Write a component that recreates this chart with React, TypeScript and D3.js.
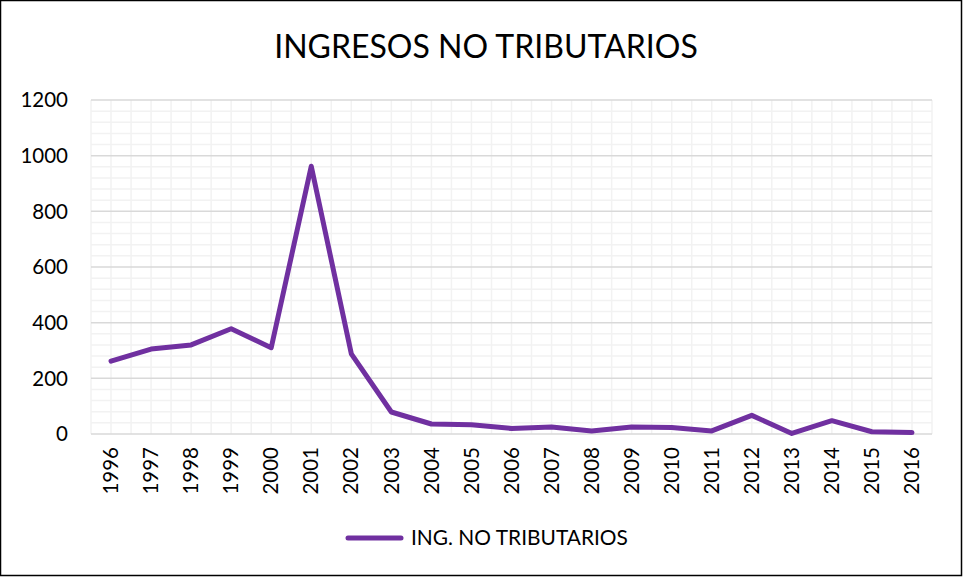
import React, { useEffect, useRef } from "react";
import * as d3 from "d3";

const years = ["1996","1997","1998","1999","2000","2001","2002","2003","2004","2005","2006","2007","2008","2009","2010","2011","2012","2013","2014","2015","2016"];
const ingNoTributarios = [262, 305, 320, 378, 310, 962, 288, 79, 36, 33, 20, 25, 11, 25, 23, 11, 67, 2, 48, 8, 5];
const yTicks = [0, 200, 400, 600, 800, 1000, 1200];
const seriesName = "ING. NO TRIBUTARIOS";
const title = "INGRESOS NO TRIBUTARIOS";

const W = 963;
const H = 577;
const FONT = "Lato, 'Open Sans', sans-serif";

export default function App() {
  const svgRef = useRef<SVGSVGElement>(null);

  useEffect(() => {
    const svg = d3.select(svgRef.current);
    svg.selectAll("*").remove();

    const left = 91, right = 932, top = 100, bottom = 434;
    const x = d3.scaleBand().domain(years).range([left, right]);
    const y = d3.scaleLinear().domain([0, 1200]).range([bottom, top]);

    svg.append("rect").attr("x", 0.5).attr("y", 0.5).attr("width", W - 2).attr("height", H - 2)
      .attr("fill", "#fff").attr("stroke", "#000").attr("stroke-width", 1.5);

    // minor horizontal gridlines
    const minor = d3.range(0, 1201, 40).filter(v => v % 200 !== 0);
    svg.append("g").selectAll("line").data(minor).join("line")
      .attr("x1", left).attr("x2", right).attr("y1", d => y(d)).attr("y2", d => y(d))
      .attr("stroke", "#f2f2f2").attr("stroke-width", 1.5);

    // vertical gridlines: boundaries and centers
    const vx: number[] = [];
    years.forEach(yr => { vx.push(x(yr)!); vx.push(x(yr)! + x.bandwidth() / 2); });
    vx.push(right);
    svg.append("g").selectAll("line").data(vx).join("line")
      .attr("x1", d => d).attr("x2", d => d).attr("y1", top).attr("y2", bottom)
      .attr("stroke", "#f2f2f2").attr("stroke-width", 1.5);

    // major horizontal gridlines
    svg.append("g").selectAll("line").data(yTicks).join("line")
      .attr("x1", left).attr("x2", right).attr("y1", d => y(d)).attr("y2", d => y(d))
      .attr("stroke", "#d9d9d9").attr("stroke-width", 1.5);

    // y labels
    svg.append("g").selectAll("text").data(yTicks).join("text")
      .attr("x", 68).attr("y", d => y(d)).attr("dy", "0.35em")
      .attr("text-anchor", "end").attr("font-family", FONT).attr("font-size", 20.5).attr("fill", "#000")
      .text(d => d);

    // x labels
    svg.append("g").selectAll("text").data(years).join("text")
      .attr("transform", d => `translate(${x(d)! + x.bandwidth() / 2},${bottom + 13}) rotate(-90)`)
      .attr("dy", "0.35em").attr("text-anchor", "end")
      .attr("font-family", FONT).attr("font-size", 20.5).attr("fill", "#000")
      .text(d => d);

    // line
    const line = d3.line<number>()
      .x((_, i) => x(years[i])! + x.bandwidth() / 2)
      .y(d => y(d));
    svg.append("path").datum(ingNoTributarios).attr("d", line)
      .attr("fill", "none").attr("stroke", "#7030a0").attr("stroke-width", 5)
      .attr("stroke-linejoin", "round").attr("stroke-linecap", "round");

    // title
    svg.append("text").attr("x", 486).attr("y", 47).attr("dy", "0.35em")
      .attr("text-anchor", "middle").attr("font-family", FONT).attr("font-size", 32).attr("fill", "#000")
      .text(title);

    // legend
    svg.append("line").attr("x1", 348).attr("x2", 401).attr("y1", 538).attr("y2", 538)
      .attr("stroke", "#7030a0").attr("stroke-width", 5).attr("stroke-linecap", "round");
    svg.append("text").attr("x", 411).attr("y", 538).attr("dy", "0.35em")
      .attr("font-family", FONT).attr("font-size", 20.9).attr("fill", "#000")
      .text(seriesName);
  }, []);

  return (
    <div style={{ position: "fixed", left: 0, top: 0, width: W, height: H, background: "#fff" }}>
      <svg ref={svgRef} width={W} height={H} style={{ display: "block" }} />
    </div>
  );
}
